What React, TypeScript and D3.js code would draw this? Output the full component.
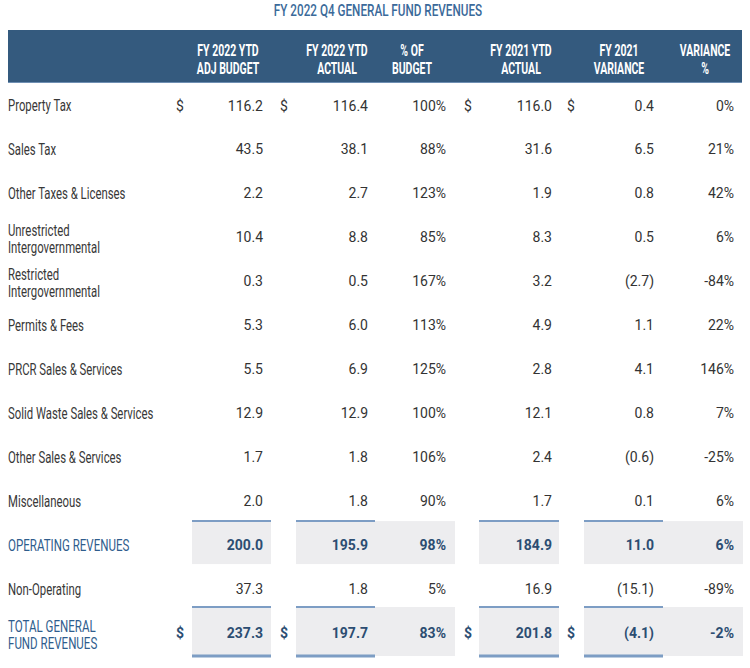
import React from "react";
import * as d3 from "d3";

const title = "FY 2022 Q4 GENERAL FUND REVENUES";
const headers: string[][] = [
  ["FY 2022 YTD", "ADJ BUDGET"],
  ["FY 2022 YTD", "ACTUAL"],
  ["% OF", "BUDGET"],
  ["FY 2021 YTD", "ACTUAL"],
  ["FY 2021", "VARIANCE"],
  ["VARIANCE", "%"],
];
const categories: string[][] = [
  ["Property Tax"],
  ["Sales Tax"],
  ["Other Taxes & Licenses"],
  ["Unrestricted", "Intergovernmental"],
  ["Restricted", "Intergovernmental"],
  ["Permits & Fees"],
  ["PRCR Sales & Services"],
  ["Solid Waste Sales & Services"],
  ["Other Sales & Services"],
  ["Miscellaneous"],
  ["OPERATING REVENUES"],
  ["Non-Operating"],
  ["TOTAL GENERAL", "FUND REVENUES"],
];
const adjBudget = [116.2, 43.5, 2.2, 10.4, 0.3, 5.3, 5.5, 12.9, 1.7, 2.0, 200.0, 37.3, 237.3];
const actual2022 = [116.4, 38.1, 2.7, 8.8, 0.5, 6.0, 6.9, 12.9, 1.8, 1.8, 195.9, 1.8, 197.7];
const pctBudget = [100, 88, 123, 85, 167, 113, 125, 100, 106, 90, 98, 5, 83];
const actual2021 = [116.0, 31.6, 1.9, 8.3, 3.2, 4.9, 2.8, 12.1, 2.4, 1.7, 184.9, 16.9, 201.8];
const variance = [0.4, 6.5, 0.8, 0.5, -2.7, 1.1, 4.1, 0.8, -0.6, 0.1, 11.0, -15.1, -4.1];
const variancePct = [0, 21, 42, 6, -84, 22, 146, 7, -25, 6, 6, -89, -2];
const rowKind = ["dollar", "", "", "", "", "", "", "", "", "", "sub", "", "total"];

const W = 750;
const H = 668;
const FONT = "Roboto, 'Noto Sans', sans-serif";

const headerCenters = [228, 337, 412, 521, 619, 705];
const valueRight = [263, 368, 446, 552, 654, 734];
const dollarX = [180, 284, null, 468, 571, null];
// shaded boxes for subtotal / total rows: [x0, x1, lineX1]
const boxes = [
  [192, 271, 271],
  [296, 455, 375],
  [479, 559, 559],
  [584, 743, 663],
];

const fmt1 = d3.format(".1f");
const fmtNum = (v: number) => (v < 0 ? `(${fmt1(-v)})` : fmt1(v));
const fmtPct = (v: number) => `${v}%`;

const y = d3.scaleLinear().domain([0, categories.length - 1]).range([105.5, 633]);

function Cond({ x, y, children, anchor = "start", size = 14, weight = 400, fill = "#333", sx = 0.76 }: any) {
  return (
    <text
      transform={`translate(${x},${y}) scale(${sx},1)`}
      textAnchor={anchor}
      dominantBaseline="central"
      fontFamily={FONT}
      fontSize={size}
      fontWeight={weight}
      fill={fill}
    >
      {children}
    </text>
  );
}

export default function App() {
  const cols = [
    adjBudget.map(fmtNum),
    actual2022.map(fmtNum),
    pctBudget.map(fmtPct),
    actual2021.map(fmtNum),
    variance.map(fmtNum),
    variancePct.map(fmtPct),
  ];
  return (
    <svg width={W} height={H} style={{ position: "absolute", left: 0, top: 0, background: "#fff" }}>
      <Cond x={W / 2 + 3} y={10.5} anchor="middle" size={16.5} weight={500} fill="#3b6a9a" sx={0.71}>
        {title}
      </Cond>
      <rect x={8} y={30} width={734} height={53} fill="#345a7e" />
      <line x1={8} x2={742} y1={82.5} y2={82.5} stroke="#6f8fb3" strokeWidth={1} />
      {headers.map((h, i) =>
        h.map((t, j) => (
          <Cond key={`${i}-${j}`} x={headerCenters[i]} y={50 + j * 18} anchor="middle" size={16} weight={700} fill="#fff" sx={0.655}>
            {t}
          </Cond>
        ))
      )}
      {categories.map((lab, r) => {
        const cy = y(r);
        const kind = rowKind[r];
        const emph = kind === "sub" || kind === "total";
        const h = kind === "total" ? 49 : 43;
        const top = kind === "total" ? cy - 26 : cy - 24;
        return (
          <g key={r}>
            {emph &&
              boxes.map((b, k) => (
                <g key={k}>
                  <rect x={b[0]} y={top} width={b[1] - b[0]} height={h} fill="#ededef" />
                  <line x1={b[0]} x2={b[2]} y1={top} y2={top} stroke="#7d9dc4" strokeWidth={2} />
                  {kind === "total" && (
                    <line x1={b[0]} x2={b[2]} y1={top + h} y2={top + h} stroke="#7d9dc4" strokeWidth={3} />
                  )}
                </g>
              ))}
            {lab.map((t, j) => (
              <Cond
                key={j}
                x={8}
                y={cy + (lab.length === 2 ? (j === 0 ? -7.5 : 9.5) : 0) + (kind === "total" ? 0.5 : 0)}
                size={emph ? 16.5 : 16}
                weight={400}
                fill={emph ? "#2f5d8d" : "#383838"}
                sx={emph ? 0.7 : 0.71}
              >
                {t}
              </Cond>
            ))}
            {cols.map((c, k) => (
              <text
                key={k}
                x={valueRight[k]}
                y={cy}
                textAnchor="end"
                dominantBaseline="central"
                fontFamily={FONT}
                fontSize={14}
                fontWeight={emph ? 700 : 400}
                fill={emph ? "#2c4d72" : "#333"}
              >
                {c[r]}
              </text>
            ))}
            {(kind === "dollar" || kind === "total") &&
              dollarX.map((dx, k) =>
                dx == null ? null : (
                  <text
                    key={`d${k}`}
                    x={dx}
                    y={cy}
                    textAnchor="middle"
                    dominantBaseline="central"
                    fontFamily={FONT}
                    fontSize={14}
                    fontWeight={kind === "total" ? 700 : 400}
                    fill={kind === "total" ? "#2c4d72" : "#333"}
                  >
                    $
                  </text>
                )
              )}
          </g>
        );
      })}
    </svg>
  );
}
